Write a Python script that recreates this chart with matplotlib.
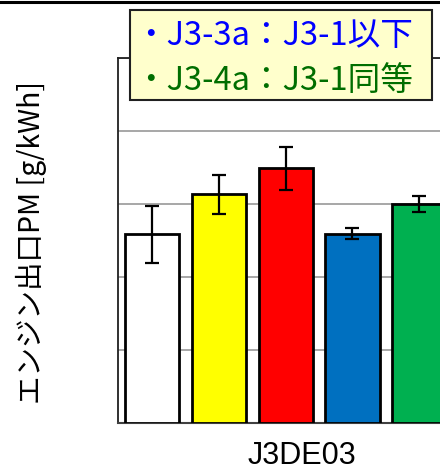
import matplotlib
matplotlib.use("Agg")
import matplotlib.pyplot as plt
from matplotlib.patches import Rectangle
from matplotlib.lines import Line2D

plt.rcParams['font.family'] = ['Noto Sans CJK JP', 'DejaVu Sans']

# Data
categories = ["J3-1", "J3-2", "J3-3", "J3-3a", "J3-4a"]
values = [2.585, 3.133, 3.489, 2.593, 3.004]
errors = [0.388, 0.267, 0.292, 0.075, 0.112]
colors = ["#FFFFFF", "#FFFF00", "#FF0000", "#0070C0", "#00B050"]
group_label = "J3DE03"
y_label = "エンジン出口PM [g/kWh]"
note_lines = ["・J3-3a：J3-1以下", "・J3-4a：J3-1同等"]
note_colors = ["#0000FF", "#006E00"]

W, H = 440, 475
fig = plt.figure(figsize=(W / 100, H / 100), dpi=100)

# axes: left 118px, bottom 423px, top 58px; pitch 66.8 px per bar
pitch = 66.8
xmin, xmax = -0.51, 5.5
ax_left = 118
ax_width = (xmax - xmin) * pitch
ax = fig.add_axes([ax_left / W, (H - 423) / H, ax_width / W, (423 - 58) / H])
ax.set_xlim(xmin, xmax)
ax.set_ylim(0, 5)

x = list(range(len(values)))
ax.bar(x, values, width=0.81, color=colors, edgecolor="black", linewidth=2.0, zorder=3)
ax.errorbar(x, values, yerr=errors, fmt="none", ecolor="black", elinewidth=1.6,
            capsize=4.8, capthick=1.6, zorder=4)

ax.set_yticks([1, 2, 3, 4, 5])
ax.yaxis.grid(True, color="#A0A0A0", linewidth=1.3, zorder=0)
ax.tick_params(axis="both", length=0, labelleft=False, labelbottom=False)
ax.set_xticks([])
for s in ["left", "top"]:
    ax.spines[s].set_color("#202020")
    ax.spines[s].set_linewidth(1.3)
ax.spines["bottom"].set_color("#404040")
ax.spines["bottom"].set_linewidth(1.5)
ax.spines["right"].set_visible(False)

# group label and y label
fig.text(302 / W, 1 - 456 / H, group_label, ha="center", va="center",
         fontsize=22, color="#000000", family=["Liberation Sans", "DejaVu Sans"])
fig.text(31 / W, 1 - 242 / H, y_label, ha="center", va="center", rotation=90,
         fontsize=20.5, color="#000000")

# top border line
fig.add_artist(Line2D([0, 1], [1 - 1.5 / H, 1 - 1.5 / H], transform=fig.transFigure,
                      color="black", linewidth=2.2))

# annotation box
bx0, bx1, by0, by1 = 129.5, 431.5, 9.5, 100
fig.add_artist(Rectangle((bx0 / W, 1 - by1 / H), (bx1 - bx0) / W, (by1 - by0) / H,
                         transform=fig.transFigure, facecolor="#FFFFCC",
                         edgecolor="#202020", linewidth=1.5, zorder=10))
for i, (t, c) in enumerate(zip(note_lines, note_colors)):
    fig.text(134 / W, 1 - (36 + 45 * i) / H, t, ha="left", va="center",
             fontsize=23.5, color=c, zorder=11)

fig.savefig("out.png", dpi=100)
